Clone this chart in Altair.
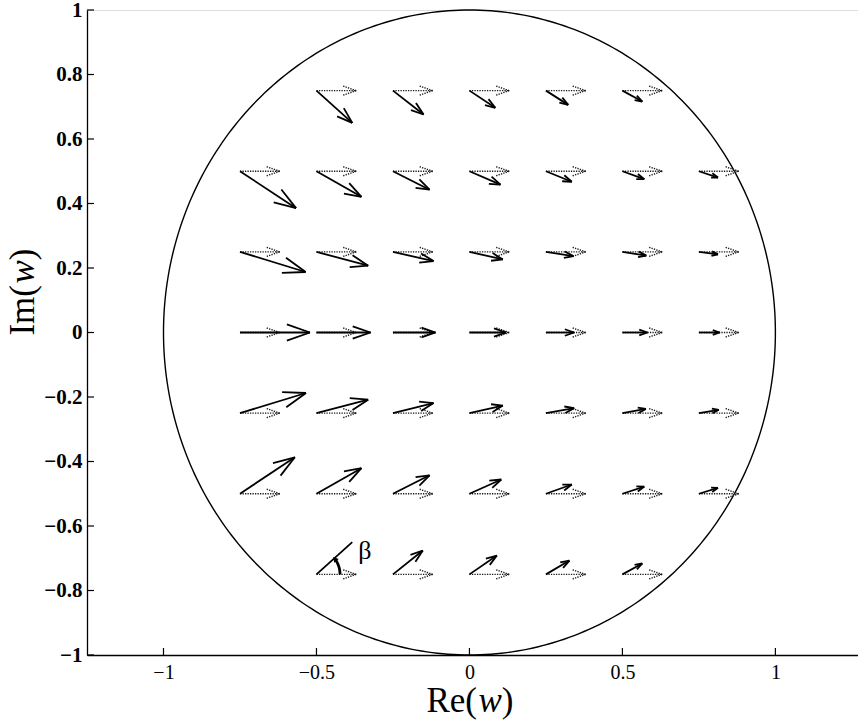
import math
import altair as alt
import pandas as pd

# Quiver settings: data length of a unit vector and the head fraction
SCALE = 0.13
HEAD = 0.33

# Sample points on the unit disc (rows of constant Im(w))
cols_full = [-0.75, -0.5, -0.25, 0.0, 0.25, 0.5, 0.75]
cols_short = [-0.5, -0.25, 0.0, 0.25, 0.5]
row_im = [0.75, 0.5, 0.25, 0.0, -0.25, -0.5, -0.75]
row_re = [cols_short, cols_full, cols_full, cols_full, cols_full, cols_full, cols_short]

# Solid vector components (in units of the dotted reference arrow)
u_rows = [
    [0.90, 0.77, 0.65, 0.56, 0.50],
    [1.41, 1.13, 0.92, 0.78, 0.65, 0.55, 0.48],
    [1.65, 1.30, 1.02, 0.84, 0.69, 0.60, 0.48],
    [1.76, 1.36, 1.07, 0.92, 0.71, 0.63, 0.52],
    [1.66, 1.30, 1.02, 0.84, 0.71, 0.59, 0.50],
    [1.38, 1.13, 0.92, 0.80, 0.65, 0.55, 0.48],
    [0.90, 0.75, 0.69, 0.59, 0.50],
]
v_rows = [
    [-0.77, -0.57, -0.41, -0.34, -0.26],
    [-0.88, -0.61, -0.44, -0.32, -0.25, -0.19, -0.15],
    [-0.48, -0.33, -0.22, -0.18, -0.10, -0.09, -0.06],
    [0.0, 0.0, 0.0, 0.0, 0.0, 0.0, 0.0],
    [0.48, 0.32, 0.24, 0.18, 0.12, 0.10, 0.08],
    [0.87, 0.61, 0.44, 0.34, 0.22, 0.17, 0.14],
    [0.77, 0.57, 0.45, 0.33, 0.26],
]

# Point where the angle beta is annotated (solid drawn without a head)
beta_point = (-0.5, -0.75)
beta_radius = 0.077

x_ticks = [-1, -0.5, 0, 0.5, 1]
y_ticks = [-1, -0.8, -0.6, -0.4, -0.2, 0, 0.2, 0.4, 0.6, 0.8, 1]

W, H = 771, 645
SERIF = "Liberation Serif"


def head(x0, y0, u, v):
    """Two barbs of a quiver arrow head (tip at x0+u, y0+v)."""
    tx, ty = x0 + u, y0 + v
    return [
        (tx, ty, tx - HEAD * (u + HEAD * v), ty - HEAD * (v - HEAD * u)),
        (tx, ty, tx - HEAD * (u - HEAD * v), ty - HEAD * (v + HEAD * u)),
    ]


solid, dotted = [], []
for yi, xs, us, vs in zip(row_im, row_re, u_rows, v_rows):
    for xi, u, v in zip(xs, us, vs):
        du, dv = u * SCALE, v * SCALE
        solid.append((xi, yi, xi + du, yi + dv))
        if (xi, yi) != beta_point:
            solid.extend(head(xi, yi, du, dv))
        dotted.append((xi, yi, xi + SCALE, yi))
        dotted.extend(head(xi, yi, SCALE, 0.0))

cols = ["x", "y", "x2", "y2"]
solid_df = pd.DataFrame(solid, columns=cols)
dotted_df = pd.DataFrame(dotted, columns=cols)

# Unit circle |w| = 1
n = 360
circle_df = pd.DataFrame({
    "i": list(range(n + 1)),
    "x": [math.cos(2 * math.pi * k / n) for k in range(n + 1)],
    "y": [math.sin(2 * math.pi * k / n) for k in range(n + 1)],
})

# Arc marking the angle beta
bi = row_re[-1].index(beta_point[0])
bu, bv = u_rows[-1][bi], v_rows[-1][bi]
phi = math.atan2(bv, bu)
arc_df = pd.DataFrame({
    "i": list(range(31)),
    "x": [beta_point[0] + beta_radius * math.cos(phi * k / 30) for k in range(31)],
    "y": [beta_point[1] + beta_radius * math.sin(phi * k / 30) for k in range(31)],
})
arrow_df = pd.DataFrame({
    "x": [beta_point[0] + beta_radius * math.cos(phi * 0.9)],
    "y": [beta_point[1] + beta_radius * math.sin(phi * 0.9)],
})
beta_label = pd.DataFrame({"x": [beta_point[0] + 0.158], "y": [beta_point[1] + 0.072], "t": ["β"]})

x_scale = alt.Scale(domain=[-1.25, 1.27], nice=False, zero=False)
y_scale = alt.Scale(domain=[-1, 1], nice=False, zero=False)

x_axis = alt.Axis(values=x_ticks, format="~g", ticks=False, grid=False, title=None,
                  domainColor="black", domainWidth=1.3, labelFont=SERIF,
                  labelFontSize=20, labelColor="black", labelPadding=7,
                  labelOverlap=False, labelFlush=False)
y_axis = alt.Axis(values=y_ticks, format="~g", ticks=False, grid=False, title=None,
                  domainColor="black", domainWidth=1.3, labelFont=SERIF,
                  labelFontSize=21, labelFontWeight="bold", labelColor="black",
                  labelPadding=5, labelOverlap=False)


def X(field="x"):
    return alt.X(f"{field}:Q", scale=x_scale, axis=x_axis)


def Y(field="y"):
    return alt.Y(f"{field}:Q", scale=y_scale, axis=y_axis)


circle = alt.Chart(circle_df).mark_line(color="black", strokeWidth=1.4).encode(
    x=X(), y=Y(), order="i:Q")

dotted_layer = alt.Chart(dotted_df).mark_rule(
    color="#1a1a1a", strokeWidth=1.4, strokeDash=[1.3, 1.2]).encode(
    x=X(), y=Y(), x2="x2:Q", y2="y2:Q")

solid_layer = alt.Chart(solid_df).mark_rule(color="black", strokeWidth=1.8).encode(
    x=X(), y=Y(), x2="x2:Q", y2="y2:Q")

arc = alt.Chart(arc_df).mark_line(color="black", strokeWidth=2.8).encode(
    x=X(), y=Y(), order="i:Q")

arc_head = alt.Chart(arrow_df).mark_point(
    shape="triangle", filled=True, color="black", size=34, opacity=1,
    angle=(360 - math.degrees(phi)) % 360).encode(x=X(), y=Y())

beta_text = alt.Chart(beta_label).mark_text(
    font=SERIF, fontSize=26, color="black", align="center", baseline="middle").encode(
    x=X(), y=Y(), text="t:N")

x_tick_df = pd.DataFrame({"x": x_ticks})
y_tick_df = pd.DataFrame({"y": y_ticks})
x_tick_marks = alt.Chart(x_tick_df).mark_rule(color="black", strokeWidth=1.2).encode(
    x=X(), y=alt.value(H), y2=alt.value(H - 7))
y_tick_marks = alt.Chart(y_tick_df).mark_rule(color="black", strokeWidth=1.2).encode(
    y=Y(), x=alt.value(0), x2=alt.value(7))

TITLE_SIZE = 35
W_ITALIC = 0.667 * TITLE_SIZE
GAP = 1.5


def title_part(text, x, y, align, italic=False, angle=0):
    return alt.Chart(pd.DataFrame({"t": [text]})).mark_text(
        font=SERIF, fontSize=TITLE_SIZE, color="black", align=align, baseline="middle",
        fontStyle="italic" if italic else "normal", angle=angle).encode(
        x=alt.value(x), y=alt.value(y), text="t:N")


# Axis titles with an italic w
rx, ry = 390, 691
re_title = (title_part("Re(", rx, ry, "right")
            + title_part("w", rx + GAP, ry, "left", italic=True)
            + title_part(")", rx + GAP + W_ITALIC, ry, "left"))
ix, iy = -64, 275
im_title = (title_part("Im(", ix, iy, "right", angle=270)
            + title_part("w", ix, iy - GAP, "left", italic=True, angle=270)
            + title_part(")", ix, iy - GAP - W_ITALIC, "left", angle=270))

chart = alt.layer(
    circle, dotted_layer, solid_layer, arc, arc_head, beta_text,
    x_tick_marks, y_tick_marks, re_title, im_title,
).properties(
    width=W, height=H,
    autosize=alt.AutoSizeParams(type="none"),
    padding={"left": 87, "top": 10, "right": 0, "bottom": 66},
).configure_view(stroke=None).configure(background="white")

chart.save("out.html", embed_options={"renderer": "svg", "actions": False})
